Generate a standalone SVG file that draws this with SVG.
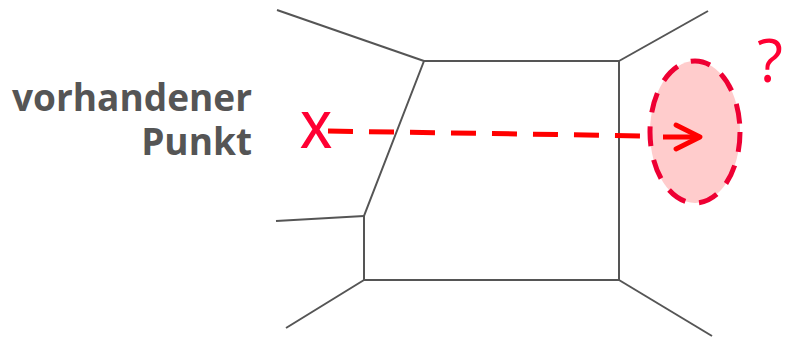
<svg xmlns="http://www.w3.org/2000/svg" width="785" height="337" viewBox="0 0 785 337">
<style>
.edge{stroke:#555;stroke-width:2;fill:none}
.lbl{font-family:"Open Sans","DejaVu Sans",sans-serif;font-weight:700;font-size:37px;fill:#555}
.red{fill:#ff0033;font-family:"Open Sans","DejaVu Sans",sans-serif}
</style>
<defs>
<marker id="chev" viewBox="0 0 10 10" refX="9" refY="5" markerWidth="6" markerHeight="6" markerUnits="strokeWidth" orient="auto">
<path d="M1,1 L9,5 L1,9" fill="none" stroke="#ff0000" stroke-width="1.6" stroke-linecap="round" stroke-linejoin="round"/>
</marker>
</defs>
<g id="cell">
<polyline class="edge" points="424,61 619,61 619,280 364,280 364,216 424,61"/>
</g>
<g id="neighbors">
<line class="edge" x1="277" y1="10" x2="424" y2="61"/>
<line class="edge" x1="619" y1="61" x2="708" y2="11"/>
<line class="edge" x1="276" y1="221" x2="364" y2="216"/>
<line class="edge" x1="286" y1="328" x2="364" y2="280"/>
<line class="edge" x1="619" y1="280" x2="712" y2="336"/>
</g>
<g id="label">
<text class="lbl" x="252" y="111" text-anchor="end">vorhandener</text>
<text class="lbl" x="252" y="155" text-anchor="end">Punkt</text>
</g>
<g id="region">
<ellipse cx="695" cy="132" rx="45" ry="71" fill="#ffcccc" stroke="#ee0033" stroke-width="5" stroke-dasharray="20,14"/>
</g>
<g id="point">
<text class="red" x="316" y="148" font-size="50" font-weight="600" text-anchor="middle">X</text>
</g>
<g id="question">
<text class="red" x="770" y="82" font-size="60" text-anchor="middle" fill="#ff0000">?</text>
</g>
<g id="connectors">
<line x1="328" y1="131" x2="646" y2="136" stroke="#ff0000" stroke-width="5" stroke-dasharray="25,16"/>
<line x1="663" y1="137" x2="700" y2="137" stroke="#ff0000" stroke-width="5" marker-end="url(#chev)"/>
</g>
</svg>
